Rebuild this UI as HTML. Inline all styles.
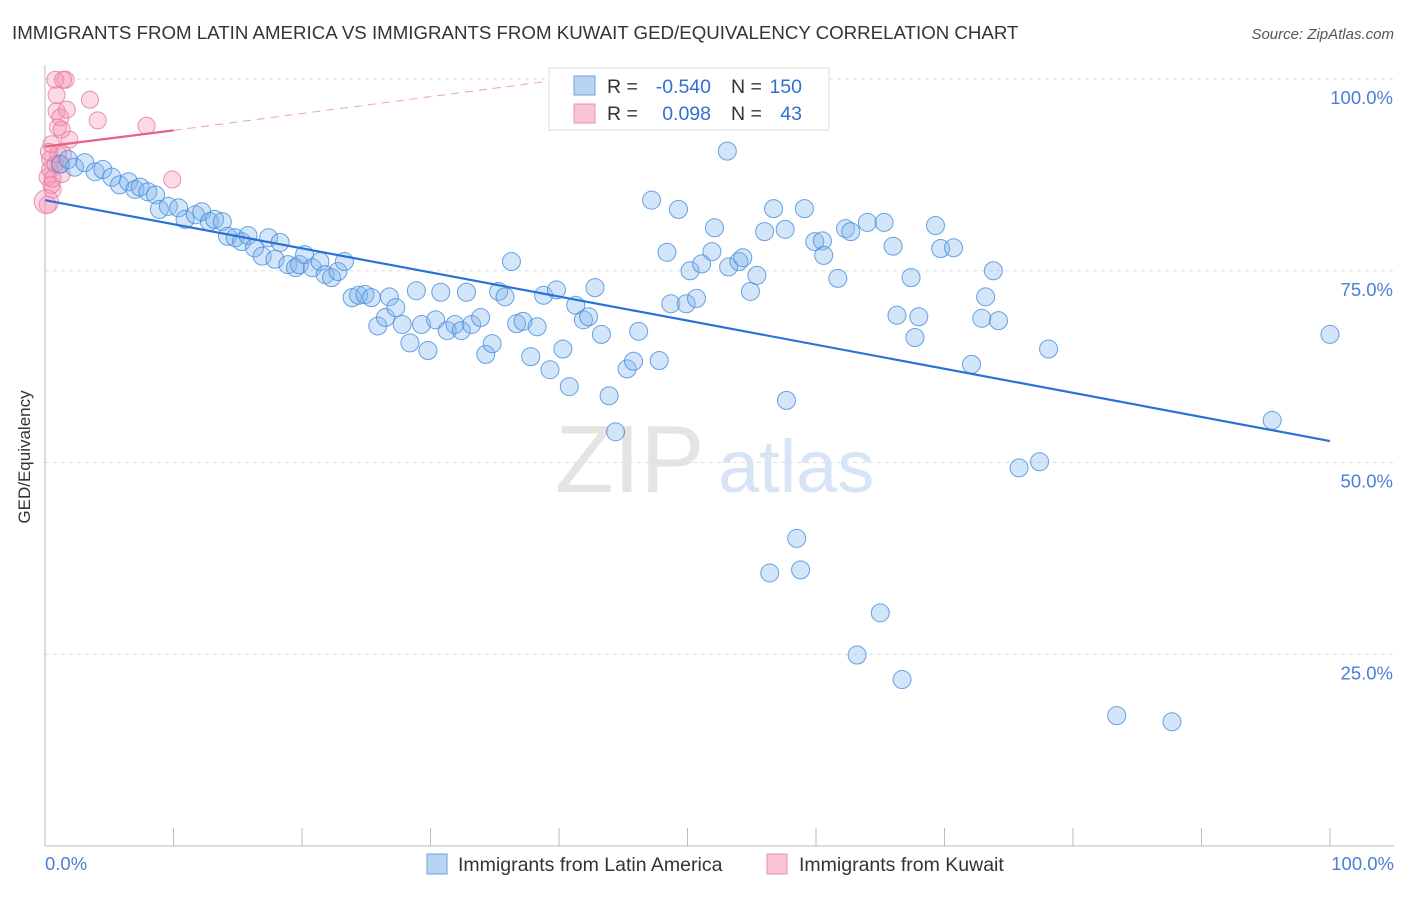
<!DOCTYPE html>
<html><head><meta charset="utf-8"><style>
body{margin:0;background:#fff;font-family:"Liberation Sans",sans-serif;}
svg text{font-family:"Liberation Sans",sans-serif;}
</style></head><body>
<svg width="1406" height="892" viewBox="0 0 1406 892">
<text x="12" y="39" font-size="18.7" fill="#333">IMMIGRANTS FROM LATIN AMERICA VS IMMIGRANTS FROM KUWAIT GED/EQUIVALENCY CORRELATION CHART</text>
<text x="1394" y="39" font-size="15" fill="#555" font-style="italic" text-anchor="end">Source: ZipAtlas.com</text>
<g id="grid"></g>
<text x="555" y="492" font-size="96" fill="#e4e4e4" font-family="Liberation Serif">ZIP</text>
<text x="718" y="492" font-size="74" fill="#d6e4f5">atlas</text>
<g id="pts"></g>
<g id="trend"></g>
<text x="30" y="457" font-size="17" fill="#333" text-anchor="middle" transform="rotate(-90 30 457)">GED/Equivalency</text>
<g>
<rect x="549" y="68" width="280" height="62" fill="#fff" stroke="#ddd"/>
<rect x="574" y="76" width="21" height="19" fill="#b9d3f3" stroke="#6fa0e0"/>
<rect x="574" y="104" width="21" height="19" fill="#f9c4d4" stroke="#e890ad"/>
<text x="607" y="93" font-size="19.5" fill="#333">R =</text>
<text x="711" y="93" font-size="19.5" fill="#2f6fd6" text-anchor="end">-0.540</text>
<text x="731" y="93" font-size="19.5" fill="#333">N =</text>
<text x="802" y="93" font-size="19.5" fill="#2f6fd6" text-anchor="end">150</text>
<text x="607" y="120" font-size="19.5" fill="#333">R =</text>
<text x="711" y="120" font-size="19.5" fill="#2f6fd6" text-anchor="end">0.098</text>
<text x="731" y="120" font-size="19.5" fill="#333">N =</text>
<text x="802" y="120" font-size="19.5" fill="#2f6fd6" text-anchor="end">43</text>
</g>
<g>
<rect x="427" y="854" width="20" height="20" fill="#b9d3f3" stroke="#6fa0e0"/>
<text x="458" y="871" font-size="19.5" fill="#333">Immigrants from Latin America</text>
<rect x="767" y="854" width="20" height="20" fill="#f9c4d4" stroke="#e890ad"/>
<text x="799" y="871" font-size="19.5" fill="#333">Immigrants from Kuwait</text>
</g>
</svg>
<script>
const yTicks=[100,75,50,25];
const yTickLabels=["100.0%","75.0%","50.0%","25.0%"];
const xTickCount=10;
const blueX=[1.2,1.8,2.3,3.1,3.9,4.5,5.2,5.8,6.5,7.0,7.4,8.0,8.6,8.9,9.6,10.4,10.9,11.7,12.2,12.8,13.2,13.8,14.2,14.8,15.3,15.8,16.3,16.9,17.4,17.9,18.3,18.9,19.5,19.8,20.2,20.8,21.4,21.8,22.3,22.8,23.3,23.9,24.4,24.9,25.4,25.9,26.5,26.8,27.3,27.8,28.4,28.9,29.3,29.8,30.4,30.8,31.3,31.9,32.4,32.8,33.2,33.9,34.3,34.8,35.3,35.8,36.3,36.7,37.2,37.8,38.3,38.8,39.3,39.8,40.3,40.8,41.3,41.9,42.3,42.8,43.3,43.9,44.4,45.3,45.8,46.2,47.2,47.8,48.4,48.7,49.3,49.9,50.2,50.7,51.1,51.9,52.1,53.1,53.2,54.0,54.3,54.9,55.4,56.0,56.4,56.7,57.6,57.7,58.5,58.8,59.1,59.9,60.5,60.6,61.7,62.3,62.7,63.2,64.0,65.0,65.3,66.0,66.3,66.7,67.4,67.7,68.0,69.3,69.7,70.7,72.1,72.9,73.2,73.8,74.2,75.8,77.4,78.1,83.4,87.7,95.5,100.0];
const blueY=[88.9,89.5,88.5,89.1,87.9,88.2,87.2,86.2,86.6,85.6,85.9,85.3,84.9,83.0,83.4,83.2,81.7,82.3,82.7,81.4,81.7,81.4,79.5,79.3,78.8,79.6,78.0,76.9,79.3,76.5,78.7,75.8,75.4,75.8,77.1,75.4,76.2,74.5,74.1,74.9,76.2,71.5,71.8,71.9,71.5,67.8,68.9,71.6,70.2,68.0,65.6,72.4,68.0,64.6,68.6,72.2,67.2,68.0,67.2,72.2,68.0,68.9,64.1,65.5,72.3,71.6,76.2,68.1,68.4,63.8,67.7,71.8,62.1,72.5,64.8,59.9,70.5,68.6,69.0,72.8,66.7,58.7,54.0,62.2,63.2,67.1,84.2,63.3,77.4,70.7,83.0,70.7,75.0,71.4,75.9,77.5,80.6,90.6,75.5,76.2,76.7,72.3,74.4,80.1,35.6,83.1,80.4,58.1,40.1,36.0,83.1,78.8,78.9,77.0,74.0,80.5,80.1,24.9,81.3,30.4,81.3,78.2,69.2,21.7,74.1,66.3,69.0,80.9,77.9,78.0,62.8,68.8,71.6,75.0,68.5,49.3,50.1,64.8,17.0,16.2,55.5,66.7];
const pinkX=[0.2,0.2,0.4,0.5,0.6,0.8,0.9,1.0,1.2,1.3,1.4,1.6,1.7,1.9,3.5,4.1,7.9,9.9,0.4,0.5,0.8,1.0,1.2,1.4,0.9,1.3,0.1,0.6,0.3];
const pinkY=[83.6,87.2,89.5,91.5,85.6,99.9,95.8,93.7,95.0,87.6,90.2,99.9,96.0,92.1,97.3,94.6,93.9,86.9,88.2,86.2,88.9,90.2,88.9,99.9,97.9,93.4,84.0,87.0,90.5];
const blueTrendX=[0,100], blueTrendY=[84.2,52.8];
const pinkTrendX=[0,10], pinkTrendY=[91.2,93.3];
const pinkDashX=[10,40], pinkDashY=[93.3,99.9];

const X0=45,X1=1330,Y0=846,Y100=79;
const sx=v=>X0+(X1-X0)*v/100;
const sy=v=>Y0-(Y0-Y100)*v/100;
const NS="http://www.w3.org/2000/svg";
function mk(tag,attrs,parent){const e=document.createElementNS(NS,tag);for(const k in attrs)e.setAttribute(k,attrs[k]);parent.appendChild(e);return e;}
const grid=document.getElementById('grid');
yTicks.forEach((t,i)=>{
  const l=mk('line',{x1:X0,x2:1394,y1:sy(t),y2:sy(t),stroke:'#ddd','stroke-dasharray':'4,4'},grid);
  
  
  const tx=mk('text',{x:1393,y:sy(t)+25,'font-size':18.5,fill:'#4a7fd6','text-anchor':'end'},grid);
  tx.textContent=yTickLabels[i];
  
  
});
const ax=mk('line',{x1:X0,x2:1394,y1:Y0,y2:Y0,stroke:'#bbb'},grid);


const yax=mk('line',{x1:X0,x2:X0,y1:65,y2:Y0,stroke:'#bbb'},grid);


for(let i=0;i<=xTickCount;i++){
  const v=i*100/xTickCount;
  const tk=mk('line',{x1:sx(v),x2:sx(v),y1:Y0-18,y2:Y0,stroke:'#bbb'},grid);
  
  
}
const xl=mk('text',{x:45,y:870,'font-size':18.5,fill:'#4a7fd6'},grid);xl.textContent='0.0%';


const xr=mk('text',{x:1394,y:870,'font-size':18.5,fill:'#4a7fd6','text-anchor':'end'},grid);xr.textContent='100.0%';


const pts=document.getElementById('pts');
pinkX.forEach((x,i)=>{
  const c=mk('circle',{cx:sx(x),cy:sy(pinkY[i]),r:i==26?12:8.5,fill:'rgba(244,150,180,0.35)',stroke:'rgba(232,120,160,0.8)','stroke-width':1},pts);
  
  
});
blueX.forEach((x,i)=>{
  const c=mk('circle',{cx:sx(x),cy:sy(blueY[i]),r:9,fill:'rgba(130,180,235,0.35)',stroke:'rgba(70,140,220,0.8)','stroke-width':1},pts);
  
  
});
const tr=document.getElementById('trend');
const bl=mk('line',{x1:sx(blueTrendX[0]),y1:sy(blueTrendY[0]),x2:sx(blueTrendX[1]),y2:sy(blueTrendY[1]),stroke:'#2a72d8','stroke-width':2.2},tr);


const pl=mk('line',{x1:sx(pinkTrendX[0]),y1:sy(pinkTrendY[0]),x2:sx(pinkTrendX[1]),y2:sy(pinkTrendY[1]),stroke:'#e8608a','stroke-width':2.2},tr);


const pd=mk('line',{x1:sx(pinkDashX[0]),y1:sy(pinkDashY[0]),x2:sx(pinkDashX[1]),y2:sy(pinkDashY[1]),stroke:'#eba0b8','stroke-width':1,'stroke-dasharray':'8,6'},tr);


</script>
</body></html>
